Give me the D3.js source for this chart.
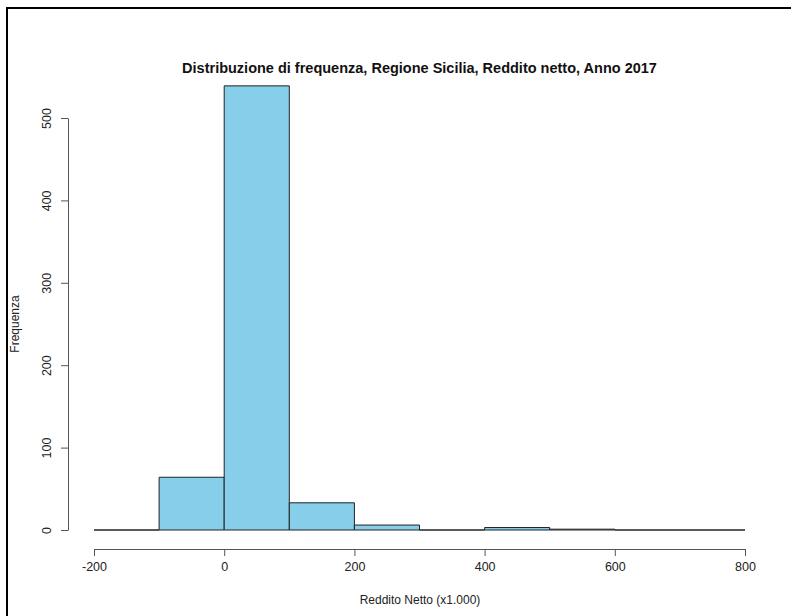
<!DOCTYPE html>
<html>
<head>
<meta charset="utf-8">
<script src="https://cdn.jsdelivr.net/npm/d3@7"></script>
<style>
  html, body { margin: 0; padding: 0; background: #fff; }
  svg { display: block; font-family: "Liberation Sans", Arial, sans-serif; }
</style>
</head>
<body>
<svg id="chart" width="791" height="616"></svg>
<script>
const titleText = "Distribuzione di frequenza, Regione Sicilia, Reddito netto, Anno 2017";
const xTitle = "Reddito Netto (x1.000)";
const yTitle = "Frequenza";
const binStarts = [-200, -100, 0, 100, 200, 300, 400, 500, 600, 700];
const binEnds   = [-100, 0, 100, 200, 300, 400, 500, 600, 700, 800];
const counts    = [0, 64, 539, 33, 6, 0, 3, 1, 0, 0];
const xTicks = [-200, 0, 200, 400, 600, 800];
const yTicks = [0, 100, 200, 300, 400, 500];

const svg = d3.select("#chart");
const x = d3.scaleLinear().domain([-200, 800]).range([94, 745]);
const y = d3.scaleLinear().domain([0, 500]).range([530, 118]);

// frame (top and left edges)
svg.append("path")
  .attr("d", "M7,616 L7,8 L791,8")
  .attr("fill", "none").attr("stroke", "#000").attr("stroke-width", 2);

// bars (as paths so zero-count bins still draw as a line)
svg.append("g").selectAll("path")
  .data(counts)
  .join("path")
  .attr("d", (d, i) => {
    const x0 = x(binStarts[i]), x1 = x(binEnds[i]), y0 = y(0), y1 = y(d);
    return `M${x0},${y0}V${y1}H${x1}V${y0}Z`;
  })
  .attr("fill", "#87CEEB")
  .attr("stroke", "#222")
  .attr("stroke-width", 1);

// x axis
const gx = svg.append("g")
  .attr("transform", "translate(0,549)")
  .call(d3.axisBottom(x).tickValues(xTicks).tickSizeOuter(0).tickSizeInner(7).tickPadding(6).tickFormat(d => String(d)));
gx.selectAll("path, line").attr("stroke", "#555");
gx.selectAll("text").attr("font-size", 12.5).attr("fill", "#222")
  .attr("font-family", "Liberation Sans, Arial, sans-serif");

// y axis
const gy = svg.append("g")
  .attr("transform", "translate(68,0)")
  .call(d3.axisLeft(y).tickValues(yTicks).tickSizeOuter(0).tickSizeInner(7).tickFormat(d => String(d)));
gy.selectAll("path, line").attr("stroke", "#555");
gy.selectAll("text")
  .attr("font-size", 12.5).attr("fill", "#222")
  .attr("font-family", "Liberation Sans, Arial, sans-serif")
  .attr("text-anchor", "middle")
  .attr("x", null)
  .attr("transform", "translate(-21,0) rotate(-90)")
  .attr("dy", "0.35em");

// title
svg.append("text")
  .attr("x", 419.5).attr("y", 73)
  .attr("text-anchor", "middle")
  .attr("font-size", 14.5).attr("font-weight", "bold").attr("fill", "#111")
  .text(titleText);

// x title
svg.append("text")
  .attr("x", 420).attr("y", 604)
  .attr("text-anchor", "middle")
  .attr("font-size", 12).attr("fill", "#222")
  .text(xTitle);

// y title
svg.append("text")
  .attr("transform", "translate(19,324) rotate(-90)")
  .attr("text-anchor", "middle")
  .attr("font-size", 12).attr("fill", "#222")
  .text(yTitle);
</script>
</body>
</html>
